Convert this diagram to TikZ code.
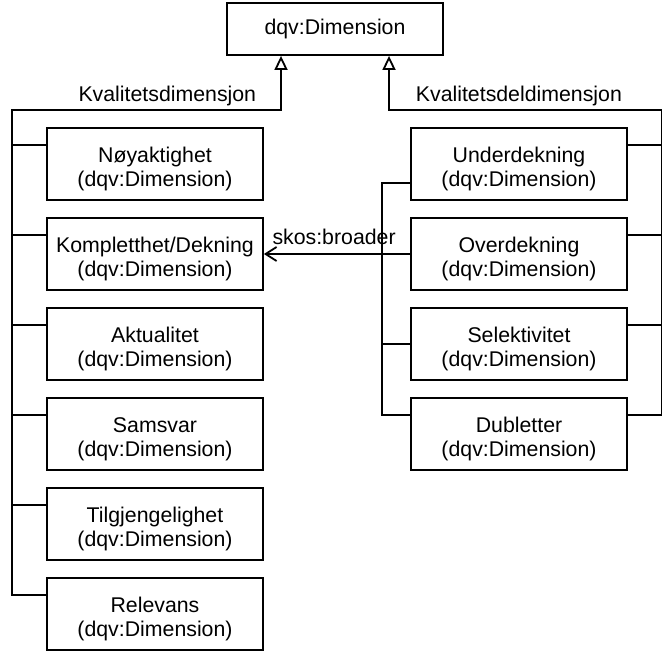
\documentclass[tikz,border=0pt]{standalone}
\usepackage{fontspec}
\setmainfont{Liberation Sans}
\usetikzlibrary{arrows.meta}
\newcommand\dqvfs{\fontsize{21.3}{24.5}\selectfont}
\newcommand\boxtxt[1]{\rule{0pt}{25pt}#1\\(dqv:Dimension)}
\begin{document}
\begin{tikzpicture}[x=1pt,y=-1pt,line width=1.8pt,
  box/.style={draw, line width=1.8pt, minimum width=216pt, minimum height=72pt,
    inner sep=0pt, align=center, font=\dqvfs},
  topbox/.style={draw, line width=1.8pt, minimum width=216pt, minimum height=52pt,
    inner sep=0pt, font=\dqvfs},
  lbl/.style={inner sep=0pt, font=\dqvfs},
  inh/.style={-{Triangle[open,length=14pt,width=13pt]}},
  bro/.style={-{Straight Barb[length=11pt,width=14pt]}}]
\useasboundingbox (0,0) rectangle (668,655);

\node[topbox] (top) at (335,29) {dqv:Dimension};

\node[box] (noy) at (155,164) {\boxtxt{Nøyaktighet}};
\node[box] (kom) at (155,254) {\boxtxt{Kompletthet/Dekning}};
\node[box] (akt) at (155,344) {\boxtxt{Aktualitet}};
\node[box] (sam) at (155,434) {\boxtxt{Samsvar}};
\node[box] (til) at (155,524) {\boxtxt{Tilgjengelighet}};
\node[box] (rel) at (155,614) {\boxtxt{Relevans}};

\node[box] (und) at (519,164) {\boxtxt{Underdekning}};
\node[box] (ove) at (519,254) {\boxtxt{Overdekning}};
\node[box] (sel) at (519,344) {\boxtxt{Selektivitet}};
\node[box] (dub) at (519,434) {\boxtxt{Dubletter}};

% left tree
\draw[inh] ([yshift=-18pt]rel.north west) -| (12,110) -| ([xshift=-54pt]top.south);
\foreach \n in {noy,kom,akt,sam,til}
  \draw ([yshift=-18pt]\n.north west) -- ++(-35,0);
\node[lbl, anchor=base east] (lkd) at (257,102) {Kvalitetsdimensjon};

% right tree
\draw[inh] ([yshift=-18pt]dub.north east) -| (661.5,110) -| ([xshift=54pt]top.south);
\foreach \n in {und,ove,sel}
  \draw ([yshift=-18pt]\n.north east) -- ++(34.5,0);
\node[lbl, anchor=base west] (lkdd) at (415,102) {Kvalitetsdeldimensjon};

% skos:broader
\draw ([yshift=18pt]und.south west) -| ([xshift=-28pt,yshift=-18pt]dub.north west) -- ([yshift=-18pt]dub.north west);
\draw (sel.west) -- ++(-28,0);
\draw[bro] (ove.west) -- (kom.east) node[lbl, pos=0.52, above=8pt] (sb) {skos:broader};
\end{tikzpicture}
\end{document}
